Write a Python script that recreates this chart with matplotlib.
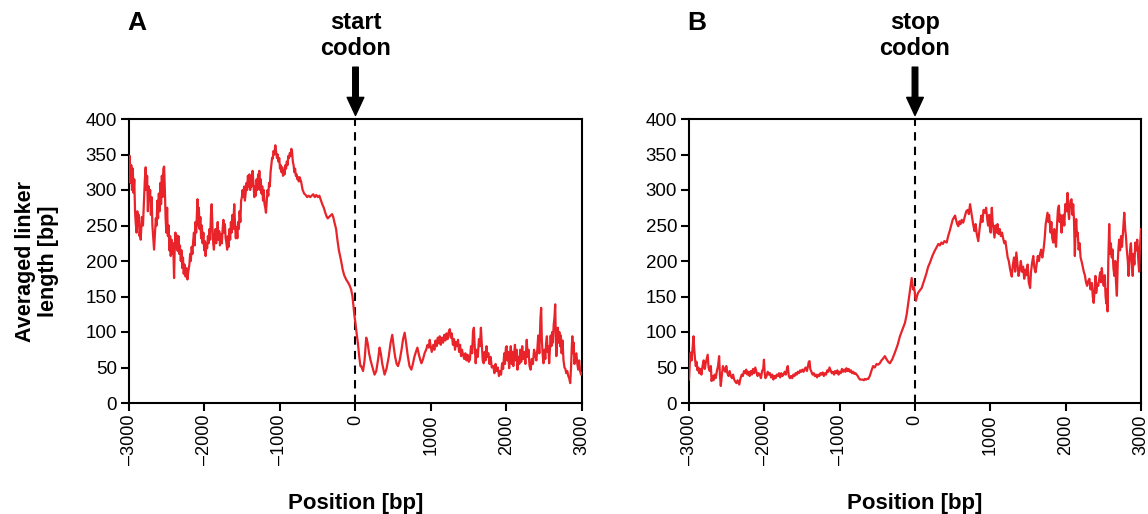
import matplotlib
matplotlib.use("Agg")
import matplotlib.pyplot as plt
import numpy as np

plt.rcParams['font.family'] = ['Liberation Sans', 'DejaVu Sans']

# Panel A (around start codon)
a_pts = [
(-3000, 320), (-2990, 348), (-2980, 310), (-2970, 335), (-2960, 300), (-2950, 330), (-2940, 296), (-2930, 315),
(-2920, 270), (-2912, 255), (-2900, 240), (-2890, 270), (-2880, 250), (-2870, 265), (-2860, 235), (-2850, 245),
(-2845, 230), (-2830, 262), (-2815, 250), (-2800, 290), (-2790, 315), (-2779, 332), (-2770, 300), (-2760, 320),
(-2750, 270), (-2740, 305), (-2730, 285), (-2720, 300), (-2710, 265), (-2700, 290), (-2690, 250), (-2680, 235),
(-2668, 216), (-2655, 240), (-2645, 260), (-2635, 250), (-2625, 285), (-2615, 260), (-2605, 295), (-2595, 270),
(-2585, 310), (-2575, 280), (-2565, 320), (-2555, 290), (-2545, 330), (-2535, 333), (-2525, 300), (-2515, 260),
(-2505, 240), (-2495, 275), (-2485, 235), (-2475, 250), (-2465, 215), (-2455, 235), (-2447, 207), (-2437, 230),
(-2427, 210), (-2415, 225), (-2403, 176), (-2395, 215), (-2385, 240), (-2375, 218), (-2365, 236), (-2355, 214),
(-2345, 235), (-2335, 210), (-2325, 222), (-2314, 200), (-2305, 215), (-2295, 190), (-2285, 205), (-2275, 182),
(-2265, 195), (-2250, 178), (-2240, 190), (-2226, 174), (-2215, 185), (-2200, 195), (-2190, 210), (-2181, 200),
(-2170, 220), (-2160, 210), (-2150, 228), (-2140, 240), (-2130, 222), (-2120, 255), (-2110, 240), (-2100, 270),
(-2093, 287), (-2085, 250), (-2075, 275), (-2065, 245), (-2055, 262), (-2045, 232), (-2035, 250), (-2025, 225),
(-2015, 240), (-2004, 215), (-1995, 228), (-1985, 207), (-1975, 225), (-1965, 218), (-1955, 235), (-1945, 225),
(-1935, 245), (-1925, 230), (-1915, 265), (-1905, 280), (-1895, 250), (-1885, 225), (-1875, 216), (-1865, 235),
(-1855, 245), (-1845, 225), (-1835, 240), (-1825, 255), (-1815, 230), (-1805, 242), (-1795, 222), (-1783, 238),
(-1770, 225), (-1760, 245), (-1750, 258), (-1740, 240), (-1730, 252), (-1720, 232), (-1710, 226), (-1700, 216),
(-1690, 235), (-1680, 220), (-1670, 245), (-1660, 230), (-1650, 255), (-1640, 240), (-1630, 265), (-1620, 245),
(-1606, 280), (-1595, 250), (-1585, 232), (-1575, 248), (-1565, 232), (-1555, 255), (-1545, 245), (-1535, 270),
(-1525, 255), (-1515, 285), (-1505, 290), (-1496, 300), (-1485, 290), (-1475, 305), (-1465, 285), (-1455, 295),
(-1445, 310), (-1435, 300), (-1425, 320), (-1415, 305), (-1405, 322), (-1395, 300), (-1385, 318), (-1375, 305),
(-1363, 327), (-1350, 305), (-1340, 290), (-1330, 305), (-1320, 292), (-1310, 315), (-1300, 300), (-1290, 322),
(-1280, 305), (-1274, 327), (-1265, 300), (-1255, 315), (-1245, 295), (-1235, 305), (-1225, 285), (-1215, 300),
(-1205, 280), (-1195, 275), (-1186, 268), (-1175, 285), (-1165, 300), (-1155, 292), (-1145, 310), (-1135, 305),
(-1125, 325), (-1115, 335), (-1105, 345), (-1097, 344), (-1085, 355), (-1075, 350), (-1062, 363), (-1050, 352),
(-1040, 345), (-1030, 350), (-1020, 340), (-1010, 345), (-1000, 330), (-990, 335), (-980, 325), (-970, 332),
(-960, 320), (-950, 328), (-940, 322), (-930, 335), (-920, 330), (-910, 340), (-900, 335), (-890, 348),
(-880, 345), (-870, 352), (-860, 348), (-850, 358), (-841, 355), (-830, 340), (-820, 335), (-810, 325),
(-800, 330), (-790, 320), (-780, 322), (-770, 315), (-760, 318), (-750, 312), (-740, 318), (-730, 315),
(-721, 312), (-700, 300), (-680, 295), (-660, 293), (-640, 290), (-620, 292), (-600, 290), (-580, 292),
(-560, 294), (-540, 290), (-520, 293), (-500, 290), (-478, 292), (-460, 286), (-440, 280), (-420, 275),
(-400, 268), (-380, 262), (-367, 260), (-350, 262), (-330, 264), (-310, 266), (-295, 262), (-280, 255),
(-257, 245), (-240, 230), (-220, 215), (-200, 205), (-190, 200), (-170, 188), (-150, 180), (-124, 174),
(-100, 170), (-80, 166), (-58, 160), (-40, 150), (-25, 135), (-13, 122), (0, 112), (15, 98), (31, 85),
(50, 65), (65, 52), (75, 52), (100, 45), (120, 60), (142, 92), (160, 85), (180, 70), (200, 60), (220, 52),
(252, 40), (275, 45), (300, 62), (319, 78), (335, 70), (355, 55), (385, 40), (410, 48), (440, 65), (465, 85),
(487, 96), (505, 80), (525, 65), (545, 55), (563, 52), (585, 60), (610, 75), (630, 90), (651, 99), (670, 85),
(690, 68), (715, 52), (740, 47), (760, 55), (780, 65), (800, 72), (820, 78), (840, 68), (860, 60), (873, 56),
(895, 62), (915, 70), (935, 75), (955, 82), (970, 78), (983, 89), (995, 80), (1010, 72), (1030, 82), (1045, 75),
(1060, 88), (1075, 80), (1090, 92), (1105, 84), (1116, 94), (1130, 82), (1145, 92), (1160, 85), (1175, 96),
(1190, 88), (1205, 98), (1220, 90), (1235, 100), (1249, 104), (1262, 92), (1275, 98), (1290, 82), (1305, 90),
(1318, 75), (1330, 86), (1345, 80), (1358, 89), (1372, 72), (1385, 82), (1398, 66), (1410, 75), (1425, 68),
(1440, 62), (1455, 70), (1470, 60), (1485, 68), (1500, 58), (1515, 61), (1530, 80), (1545, 70), (1556, 100),
(1568, 106), (1580, 78), (1592, 56), (1605, 75), (1620, 65), (1635, 90), (1648, 80), (1661, 106), (1672, 85),
(1685, 60), (1698, 56), (1710, 72), (1722, 60), (1735, 80), (1748, 65), (1760, 70), (1775, 55), (1790, 65),
(1805, 50), (1825, 52), (1840, 42), (1855, 55), (1870, 45), (1885, 50), (1900, 38), (1914, 45), (1928, 40),
(1942, 56), (1955, 48), (1970, 70), (1980, 55), (1992, 78), (2002, 80), (2012, 60), (2022, 72), (2035, 49),
(2045, 65), (2057, 80), (2068, 55), (2080, 72), (2090, 52), (2100, 68), (2112, 82), (2122, 60), (2135, 75),
(2145, 47), (2158, 65), (2170, 55), (2182, 75), (2195, 58), (2208, 80), (2220, 62), (2235, 72), (2250, 55),
(2268, 89), (2280, 65), (2292, 75), (2305, 52), (2320, 47), (2335, 62), (2350, 55), (2365, 75), (2380, 68),
(2395, 60), (2410, 78), (2420, 95), (2435, 70), (2450, 120), (2459, 134), (2468, 90), (2478, 70), (2490, 56),
(2502, 75), (2514, 62), (2525, 85), (2535, 94), (2545, 72), (2555, 80), (2565, 56), (2575, 75), (2585, 95),
(2595, 80), (2605, 100), (2615, 85), (2625, 110), (2635, 120), (2645, 139), (2652, 100), (2660, 66), (2670, 90),
(2680, 106), (2690, 85), (2700, 100), (2710, 80), (2720, 95), (2730, 70), (2742, 88), (2755, 60), (2768, 50),
(2780, 48), (2791, 42), (2805, 45), (2818, 38), (2830, 35), (2844, 28), (2855, 50), (2865, 80), (2872, 94),
(2880, 70), (2890, 85), (2900, 55), (2912, 66), (2925, 70), (2938, 55), (2950, 47), (2962, 60), (2975, 45),
(2988, 40), (3000, 42),
]

# Panel B (around stop codon)
b_pts = [
(-3000, 33), (-2990, 55), (-2978, 71), (-2965, 60), (-2950, 80), (-2940, 94), (-2930, 75), (-2920, 62),
(-2910, 52), (-2900, 58), (-2888, 46), (-2875, 50), (-2865, 42), (-2850, 48), (-2835, 40), (-2820, 52),
(-2805, 60), (-2790, 48), (-2778, 56), (-2765, 62), (-2752, 68), (-2740, 50), (-2725, 45), (-2710, 52),
(-2700, 31), (-2689, 38), (-2675, 32), (-2660, 40), (-2645, 35), (-2630, 45), (-2615, 52), (-2600, 66),
(-2590, 40), (-2578, 24), (-2565, 38), (-2550, 52), (-2535, 48), (-2520, 44), (-2505, 52), (-2490, 42),
(-2475, 38), (-2460, 45), (-2445, 38), (-2430, 35), (-2415, 40), (-2400, 33), (-2385, 30), (-2370, 28),
(-2355, 32), (-2333, 26), (-2318, 34), (-2300, 40), (-2285, 38), (-2270, 45), (-2255, 42), (-2240, 47),
(-2225, 40), (-2210, 44), (-2195, 38), (-2180, 45), (-2165, 40), (-2150, 48), (-2135, 42), (-2120, 50),
(-2105, 44), (-2090, 38), (-2075, 42), (-2060, 40), (-2045, 35), (-2030, 45), (-2015, 48), (-2005, 61),
(-1995, 42), (-1985, 35), (-1970, 38), (-1955, 44), (-1940, 40), (-1925, 42), (-1910, 36), (-1895, 40),
(-1880, 33), (-1865, 38), (-1850, 35), (-1835, 40), (-1820, 38), (-1805, 42), (-1790, 36), (-1775, 42),
(-1760, 38), (-1745, 40), (-1730, 44), (-1715, 40), (-1700, 48), (-1689, 52), (-1675, 38), (-1660, 35),
(-1645, 38), (-1630, 35), (-1615, 40), (-1600, 38), (-1585, 42), (-1570, 40), (-1555, 44), (-1540, 42),
(-1525, 46), (-1510, 44), (-1495, 47), (-1480, 44), (-1465, 48), (-1450, 50), (-1435, 45), (-1420, 52),
(-1410, 58), (-1400, 59), (-1390, 48), (-1375, 44), (-1360, 40), (-1345, 42), (-1330, 38), (-1315, 40),
(-1300, 36), (-1285, 40), (-1270, 38), (-1255, 42), (-1240, 40), (-1225, 43), (-1210, 38), (-1195, 42),
(-1180, 40), (-1165, 46), (-1150, 44), (-1135, 50), (-1120, 46), (-1105, 42), (-1090, 44), (-1075, 40),
(-1060, 45), (-1045, 42), (-1030, 46), (-1015, 40), (-1000, 44), (-985, 42), (-970, 48), (-955, 44),
(-940, 47), (-925, 44), (-910, 49), (-895, 45), (-880, 48), (-865, 44), (-850, 46), (-835, 42),
(-820, 44), (-805, 41), (-790, 42), (-775, 40), (-760, 38), (-745, 35), (-730, 33), (-711, 33),
(-695, 33), (-680, 32), (-665, 34), (-650, 33), (-635, 34), (-620, 34), (-600, 38), (-580, 45),
(-556, 52), (-535, 50), (-510, 55), (-490, 54), (-467, 56), (-445, 60), (-420, 63), (-400, 66),
(-380, 62), (-355, 58), (-333, 56), (-300, 62), (-267, 71), (-230, 82), (-200, 94), (-165, 104),
(-133, 113), (-110, 125), (-89, 141), (-70, 155), (-55, 168), (-44, 176), (-35, 168), (-25, 160),
(-15, 163), (-5, 158), (5, 148), (13, 144), (25, 150), (40, 155), (60, 158), (89, 162),
(120, 172), (150, 182), (175, 192), (200, 198), (230, 207), (260, 214), (290, 220), (310, 224),
(330, 222), (350, 226), (370, 224), (390, 228), (421, 226), (440, 235), (460, 242), (480, 250),
(500, 258), (520, 262), (532, 264), (545, 258), (560, 252), (575, 249), (590, 256), (605, 252),
(620, 258), (640, 254), (660, 262), (680, 270), (700, 272), (715, 266), (731, 280), (745, 270),
(760, 260), (775, 250), (790, 242), (805, 252), (820, 238), (840, 228), (860, 248), (880, 264),
(895, 255), (910, 272), (930, 268), (944, 275), (958, 260), (970, 250), (985, 265), (995, 245),
(1005, 240), (1012, 262), (1020, 275), (1030, 255), (1042, 245), (1055, 233), (1068, 250), (1080, 240),
(1095, 252), (1110, 238), (1125, 245), (1140, 235), (1155, 240), (1170, 232), (1185, 225), (1200, 228),
(1215, 216), (1230, 205), (1245, 200), (1260, 190), (1275, 182), (1285, 178), (1300, 195), (1315, 205),
(1330, 185), (1345, 212), (1360, 195), (1375, 179), (1390, 188), (1405, 200), (1420, 185), (1435, 192),
(1450, 175), (1465, 188), (1480, 180), (1495, 195), (1510, 170), (1528, 162), (1540, 185), (1555, 198),
(1570, 207), (1585, 190), (1600, 184), (1615, 195), (1630, 207), (1645, 200), (1660, 210), (1675, 216),
(1690, 205), (1705, 215), (1720, 230), (1735, 252), (1750, 262), (1759, 268), (1770, 255), (1780, 265),
(1790, 254), (1800, 240), (1810, 255), (1822, 232), (1835, 226), (1848, 245), (1860, 230), (1872, 220),
(1885, 250), (1897, 272), (1910, 278), (1920, 255), (1932, 265), (1945, 240), (1958, 255), (1970, 265),
(1982, 250), (1995, 280), (2010, 270), (2025, 296), (2035, 270), (2045, 259), (2055, 275), (2065, 285),
(2078, 287), (2090, 265), (2100, 280), (2110, 259), (2122, 207), (2130, 240), (2140, 259), (2150, 235),
(2160, 240), (2172, 216), (2185, 225), (2198, 205), (2210, 200), (2225, 193), (2240, 185), (2255, 180),
(2270, 170), (2285, 165), (2300, 172), (2315, 175), (2330, 160), (2348, 169), (2360, 150), (2372, 141),
(2385, 160), (2395, 179), (2405, 155), (2420, 168), (2432, 165), (2445, 175), (2458, 184), (2470, 170),
(2480, 190), (2492, 175), (2505, 165), (2518, 180), (2530, 150), (2540, 140), (2548, 160), (2556, 129),
(2566, 200), (2578, 252), (2590, 210), (2600, 225), (2612, 205), (2622, 216), (2634, 190), (2646, 179),
(2658, 200), (2668, 170), (2680, 151), (2692, 200), (2700, 216), (2710, 230), (2722, 215), (2735, 235),
(2748, 220), (2760, 240), (2778, 268), (2790, 245), (2800, 235), (2812, 215), (2825, 200), (2835, 179),
(2845, 195), (2855, 216), (2866, 225), (2878, 200), (2890, 179), (2900, 210), (2912, 195), (2925, 226),
(2938, 215), (2950, 230), (2962, 205), (2975, 185), (2985, 220), (2993, 230), (3000, 245),
]

a_x = [p[0] for p in a_pts]
a_y = [p[1] for p in a_pts]
b_x = [p[0] for p in b_pts]
b_y = [p[1] for p in b_pts]

x_ticks = [-3000, -2000, -1000, 0, 1000, 2000, 3000]
y_ticks = [0, 50, 100, 150, 200, 250, 300, 350, 400]
panel_letters = ['A', 'B']
codon_labels = ['start\ncodon', 'stop\ncodon']

W, H = 1148, 514
fig = plt.figure(figsize=(W / 100, H / 100), dpi=100)

red = '#e8232a'
axes_px = [(129, 582), (689, 1141)]
top_px, bot_px = 119, 403

for i, (xs, ys) in enumerate([(a_x, a_y), (b_x, b_y)]):
    l, r = axes_px[i]
    ax = fig.add_axes([l / W, 1 - bot_px / H, (r - l) / W, (bot_px - top_px) / H])
    ax.plot(xs, ys, color=red, lw=1.6, zorder=3)
    ax.axvline(0, color='black', lw=1.5, ls=(0, (4, 3)), zorder=2)
    ax.set_xlim(-3000, 3000)
    ax.set_ylim(0, 400)
    ax.set_xticks(x_ticks)
    ax.set_xticklabels([str(t).replace('-', '\u2013') for t in x_ticks], rotation=90, fontsize=13)
    ax.set_yticks(y_ticks)
    ax.set_yticklabels([str(t) for t in y_ticks], fontsize=13.5)
    ax.tick_params(direction='out', length=6, width=1.5, pad=2.5)
    for s in ax.spines.values():
        s.set_linewidth(1.5)
    ax.set_xlabel('Position [bp]', fontsize=16, fontweight='bold', labelpad=20)
    if i == 0:
        ax.set_ylabel('Averaged linker\nlength [bp]', fontsize=15.5, fontweight='bold',
                      labelpad=19, linespacing=1.15)
    # arrow and label
    ax.annotate('', xy=(0, 405), xytext=(0, 473), xycoords='data', textcoords='data',
                arrowprops=dict(facecolor='black', edgecolor='black', width=4, headwidth=12,
                                headlength=13, shrink=0), annotation_clip=False)
    ax.text(0, 518, codon_labels[i], ha='center', va='center', fontsize=17, fontweight='bold',
            linespacing=1.15, clip_on=False)
    fig.text((l + 7.5) / W, 1 - 23 / H, panel_letters[i], ha='center', va='center',
             fontsize=19, fontweight='bold')

fig.savefig('out.png', dpi=100)
